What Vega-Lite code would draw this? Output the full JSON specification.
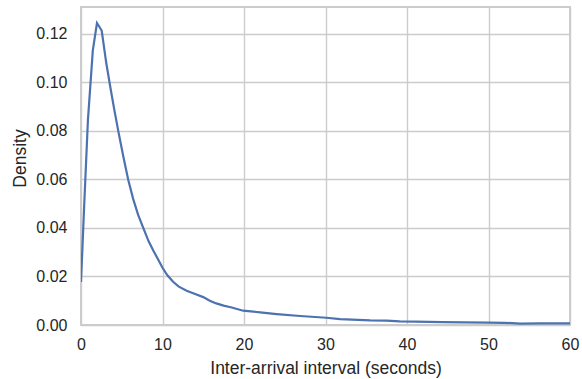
{
  "$schema": "https://vega.github.io/schema/vega-lite/v6.json",
  "autosize": {"type": "none"},
  "padding": {"left": 81, "top": 7, "right": 12, "bottom": 54},
  "width": 489,
  "height": 318,
  "background": "white",
  "config": {
    "font": "Liberation Sans",
    "view": {"stroke": "#cccccc", "strokeWidth": 2},
    "axis": {
      "domain": false,
      "ticks": false,
      "grid": true,
      "gridColor": "#cccccc",
      "gridWidth": 1.4,
      "labelFont": "Liberation Sans",
      "labelFontSize": 16,
      "labelColor": "#262626",
      "titleFont": "Liberation Sans",
      "titleFontSize": 17.5,
      "titleFontWeight": "normal",
      "titleColor": "#262626"
    }
  },
  "data": {
    "values": [
      {"t": 0, "d": 0.0177},
      {"t": 0.4, "d": 0.05},
      {"t": 0.85, "d": 0.0845},
      {"t": 1.45, "d": 0.1132},
      {"t": 1.96, "d": 0.1245},
      {"t": 2.54, "d": 0.1214},
      {"t": 3.1, "d": 0.108},
      {"t": 3.6, "d": 0.098},
      {"t": 4.1, "d": 0.0885},
      {"t": 4.6, "d": 0.0795},
      {"t": 5.2, "d": 0.0694},
      {"t": 5.8, "d": 0.0598},
      {"t": 6.4, "d": 0.052},
      {"t": 7.0, "d": 0.0455},
      {"t": 7.65, "d": 0.0399},
      {"t": 8.3, "d": 0.0345},
      {"t": 8.9, "d": 0.0305},
      {"t": 9.5, "d": 0.0268},
      {"t": 10.0, "d": 0.0236},
      {"t": 10.6, "d": 0.0205},
      {"t": 11.3, "d": 0.0178},
      {"t": 12.0, "d": 0.0158},
      {"t": 12.97, "d": 0.0141},
      {"t": 14.0, "d": 0.0128},
      {"t": 15.0, "d": 0.0115},
      {"t": 15.8, "d": 0.0100},
      {"t": 16.6, "d": 0.0089},
      {"t": 17.5, "d": 0.0080},
      {"t": 18.5, "d": 0.0072},
      {"t": 19.9, "d": 0.0059},
      {"t": 22, "d": 0.0052},
      {"t": 24, "d": 0.0045},
      {"t": 26.9, "d": 0.0037},
      {"t": 30.1, "d": 0.0030},
      {"t": 31.8, "d": 0.0024},
      {"t": 34, "d": 0.0021},
      {"t": 35.5, "d": 0.0019},
      {"t": 37.5, "d": 0.0018},
      {"t": 39.1, "d": 0.0015},
      {"t": 41, "d": 0.0014},
      {"t": 44.4, "d": 0.0012},
      {"t": 47, "d": 0.0011},
      {"t": 50, "d": 0.0010},
      {"t": 52, "d": 0.0009},
      {"t": 53.9, "d": 0.0006},
      {"t": 56.3, "d": 0.0007},
      {"t": 58, "d": 0.0007},
      {"t": 60, "d": 0.0007}
    ]
  },
  "mark": {"type": "line", "color": "#4c72b0", "strokeWidth": 2.2, "clip": true},
  "encoding": {
    "x": {
      "field": "t",
      "type": "quantitative",
      "scale": {"domain": [0, 60], "nice": false, "zero": false},
      "axis": {
        "title": "Inter-arrival interval (seconds)",
        "values": [0, 10, 20, 30, 40, 50, 60],
        "labelPadding": 11,
        "labelFlush": false,
        "titleX": 244.5,
        "titleY": 48,
        "titleBaseline": "alphabetic",
        "titleAnchor": "middle"
      }
    },
    "y": {
      "field": "d",
      "type": "quantitative",
      "scale": {"domain": [0, 0.1311], "nice": false},
      "axis": {
        "title": "Density",
        "values": [0, 0.02, 0.04, 0.06, 0.08, 0.1, 0.12],
        "format": ".2f",
        "labelPadding": 14,
        "titleX": -56,
        "titleY": 151,
        "titleBaseline": "alphabetic",
        "titleAnchor": "middle",
        "titleAngle": -90
      }
    }
  }
}
